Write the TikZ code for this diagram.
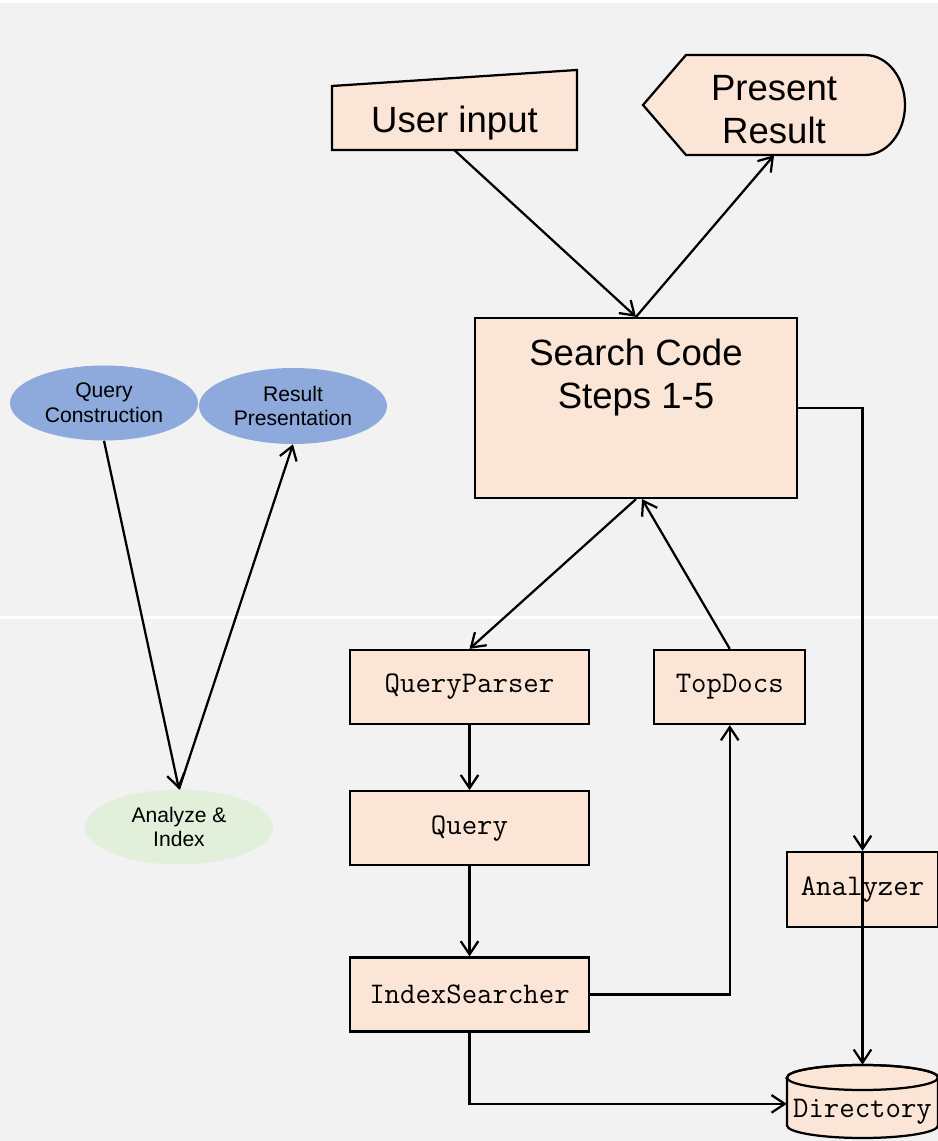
\documentclass[tikz,border=0pt]{standalone}
\usepackage{fontspec}
\setmainfont{Liberation Sans}
\usetikzlibrary{arrows.meta, positioning, shapes.geometric}
\definecolor{CPeach}{HTML}{FBE5D6}
\definecolor{CSky}{HTML}{8EA9DB}
\definecolor{CMint}{HTML}{E2EFDA}
\definecolor{CPanel}{HTML}{F2F2F2}

\begin{document}
\begin{tikzpicture}[
    box/.style={draw, line width=1.6pt, fill=CPeach, minimum height=1.85cm, font=\ttfamily\fontsize{21.3}{25}\selectfont},
    bigtext/.style={font=\fontsize{26}{30.5}\selectfont, align=center},
    blob/.style={ellipse, inner sep=0pt, minimum width=4.7cm, minimum height=1.875cm, align=center, font=\fontsize{15}{17.5}\selectfont},
    flow/.style={line width=1.6pt, -{Straight Barb[length=3.3mm, width=4.4mm]}}
]
    \useasboundingbox (0,0) rectangle (23.45,28.525);

    % Panels
    \fill[CPanel] (0,0) rectangle (23.45,13.05);
    \fill[CPanel] (0,13.125) rectangle (23.45,28.45);

    % User input (manual input outline)
    \filldraw[fill=CPeach, line width=1.6pt] (8.3,24.775) -- (14.425,24.775) -- (14.425,26.775) -- (8.3,26.375) -- cycle;
    \node[bigtext, minimum width=6.125cm, minimum height=1.35cm] (userin) at (11.3625,25.45) {User input};

    % Present Result (display outline)
    \filldraw[fill=CPeach, line width=1.6pt] (16.075,25.9) -- (17.15,27.15) -- (21.625,27.15)
        arc[start angle=90, end angle=-90, x radius=1cm, y radius=1.25cm] -- (17.15,24.65) -- cycle;
    \node[bigtext, minimum width=6.55cm, minimum height=2.26cm] (pres) at (19.35,25.78) {Present\\Result};

    % Search code
    \node[box, minimum width=8.05cm, minimum height=4.5cm,
        label={[bigtext, yshift=0.76cm]center:{Search Code\\Steps 1-5}}] (search) at (15.9,18.325) {};

    % Lucene classes
    \node[box, minimum width=5.975cm] (qparser) at (11.7375,11.35) {QueryParser};
    \node[box, minimum width=5.975cm, below=1.625cm of qparser] (query) {Query};
    \node[box, minimum width=5.975cm, below=2.25cm of query] (isearch) {IndexSearcher};
    \node[box, minimum width=3.775cm, right=1.575cm of qparser] (topdocs) {TopDocs};
    \node[box, minimum width=3.775cm, minimum height=1.875cm] (analyzer) at (21.5625,6.2875) {Analyzer};

    % Directory (drum)
    \filldraw[fill=CPeach, line width=1.6pt] (19.675,1.5875) -- (19.675,0.3875)
        arc[start angle=180, end angle=360, x radius=1.8875cm, y radius=0.3125cm] -- (23.45,1.5875)
        arc[start angle=0, end angle=180, x radius=1.8875cm, y radius=0.3125cm] -- cycle;
    \draw[line width=1.6pt] (21.5625,1.5875) ellipse[x radius=1.8875cm, y radius=0.3125cm];
    \node[font=\ttfamily\fontsize{21.3}{25}\selectfont, minimum width=3.775cm, minimum height=1.825cm,
        text height=0.9cm, text depth=0.08cm, inner sep=0pt] (dir) at (21.5625,0.9875) {Directory};

    % Phases
    \node[blob, fill=CSky] (qcons) at (2.6,18.45) {Query\\Construction};
    \node[blob, fill=CSky, minimum height=1.9cm] (rpres) at (7.325,18.375) {Result\\Presentation};
    \node[blob, fill=CMint] (analyze) at (4.475,7.85) {Analyze \&\\Index};

    % Connectors
    \draw[flow] (userin.south) -- (search.north);
    \draw[flow] (search.north) -- (pres.south);
    \draw[flow] (search.south) -- (qparser.north);
    \draw[flow] (topdocs.north) -- ([xshift=0.15cm]search.south);
    \draw[flow] (qparser) -- (query);
    \draw[flow] (query) -- (isearch);
    \draw[flow] (isearch.east) -| (topdocs.south);
    \draw[flow] (isearch.south) |- ([yshift=-0.06cm]dir.west);
    \draw[flow] (search.east) -| (analyzer.north);
    \draw[flow] (analyzer.north) -- (dir.north);
    \draw[flow] (qcons.south) -- (analyze.north);
    \draw[flow] (analyze.north) -- (rpres.south);
\end{tikzpicture}
\end{document}
